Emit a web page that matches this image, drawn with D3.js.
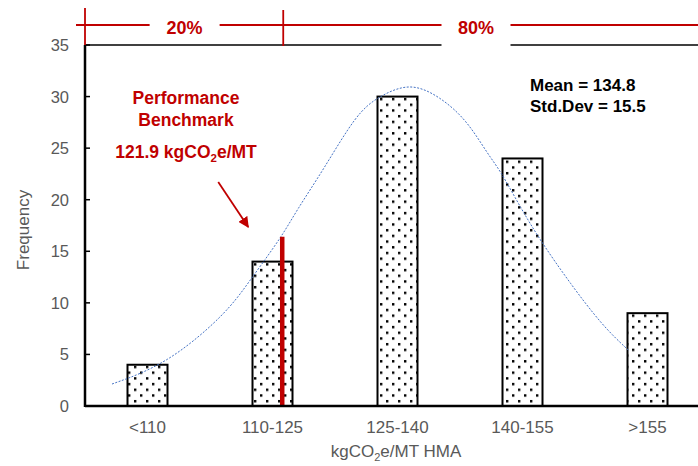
<!DOCTYPE html>
<html>
<head>
<meta charset="utf-8">
<script src="https://cdn.jsdelivr.net/npm/d3@7"></script>
<style>
  body { margin: 0; background: #fff; }
  text { font-family: "Liberation Sans", Arial, sans-serif; }
</style>
</head>
<body>
<svg id="chart" width="698" height="466"></svg>
<script>
// bins and counts
var categories = ['<110', '110-125', '125-140', '140-155', '>155'];
var counts = [4, 14, 30, 24, 9];
var yTicks = [0, 5, 10, 15, 20, 25, 30, 35];

// fitted normal curve (x in category positions, 0 = first bin)
var curveX = [-0.284, 0.154, 0.634, 0.82, 1.074, 1.194, 1.406, 1.674, 1.846, 2.1, 2.34, 2.554, 2.726, 2.82, 2.98, 3.14, 3.38, 3.646, 3.846];
var curveY = [2.13, 4.04, 8.99, 12.2, 16.4, 19.0, 22.88, 28.38, 29.99, 31.4, 29.99, 27.73, 24.34, 22.88, 19.32, 16.09, 11.9, 7.69, 5.43];

var benchmark = 121.9;
var benchmarkBin = [110, 125];
var benchmarkHeight = 16.4;
var shares = ['20%', '80%'];

var red = '#C00000';
var grey = '#595959';

var svg = d3.select('#chart');

var x = d3.scaleBand()
    .domain(categories)
    .range([85, 710])
    .paddingInner(0.68)
    .paddingOuter(0.34);

var y = d3.scaleLinear()
    .domain([0, 35])
    .range([406, 45]);

var xPos = d3.scaleLinear()
    .domain([0, categories.length - 1])
    .range([x(categories[0]) + x.bandwidth() / 2, x(categories[categories.length - 1]) + x.bandwidth() / 2]);

// benchmark position inside its bin
var xBench = d3.scaleLinear()
    .domain(benchmarkBin)
    .range([x('110-125'), x('110-125') + x.bandwidth()]);
var bx = xBench(benchmark) - 2;

// dot pattern
var defs = svg.append('defs');
var pat = defs.append('pattern')
    .attr('id', 'dots')
    .attr('patternUnits', 'userSpaceOnUse')
    .attr('width', 12)
    .attr('height', 11.4);
pat.append('rect').attr('width', 12).attr('height', 11.4).attr('fill', '#fff');
pat.append('rect').attr('x', 2).attr('y', 1).attr('width', 2.4).attr('height', 2.4).attr('fill', '#000');
pat.append('rect').attr('x', 8).attr('y', 6.7).attr('width', 2.4).attr('height', 2.4).attr('fill', '#000');

// top border of the plot area
svg.append('line')
    .attr('x1', 85).attr('x2', 698)
    .attr('y1', y(35)).attr('y2', y(35))
    .attr('stroke', '#000').attr('stroke-width', 1.5);

// bars
svg.selectAll('rect.bar')
    .data(counts)
    .enter().append('rect')
    .attr('class', 'bar')
    .attr('x', function(d, i) { return x(categories[i]); })
    .attr('y', function(d) { return y(d); })
    .attr('width', x.bandwidth())
    .attr('height', function(d) { return y(0) - y(d); })
    .attr('fill', 'url(#dots)')
    .attr('stroke', '#000')
    .attr('stroke-width', 2);

// normal curve
var pts = curveX.map(function(v, i) { return [xPos(v), y(curveY[i])]; });
svg.append('path')
    .attr('d', d3.line().curve(d3.curveBasis)(pts))
    .attr('fill', 'none')
    .attr('stroke', '#4472C4')
    .attr('stroke-width', 1)
    .attr('stroke-dasharray', '2,1.5');

// benchmark line
svg.append('line')
    .attr('x1', bx).attr('x2', bx)
    .attr('y1', y(0)).attr('y2', y(benchmarkHeight))
    .attr('stroke', red).attr('stroke-width', 4.5);

// axes
svg.append('line')
    .attr('x1', 85).attr('x2', 698)
    .attr('y1', y(0)).attr('y2', y(0))
    .attr('stroke', '#000').attr('stroke-width', 2.5);
svg.append('line')
    .attr('x1', 85).attr('x2', 85)
    .attr('y1', y(0) + 1).attr('y2', y(35))
    .attr('stroke', '#000').attr('stroke-width', 2.5);

svg.selectAll('line.ytick')
    .data(yTicks)
    .enter().append('line')
    .attr('x1', 85).attr('x2', 90)
    .attr('y1', function(d) { return y(d); })
    .attr('y2', function(d) { return y(d); })
    .attr('stroke', '#000').attr('stroke-width', 1.5);

svg.selectAll('text.ytl')
    .data(yTicks)
    .enter().append('text')
    .attr('x', 69)
    .attr('y', function(d) { return y(d) + 6; })
    .attr('text-anchor', 'end')
    .style('font-size', '16.5px')
    .style('fill', grey)
    .text(function(d) { return d; });

svg.selectAll('text.xtl')
    .data(categories)
    .enter().append('text')
    .attr('x', function(d) { return x(d) + x.bandwidth() / 2; })
    .attr('y', 433)
    .attr('text-anchor', 'middle')
    .style('font-size', '17px')
    .style('fill', grey)
    .text(function(d) { return d; });

// axis titles
svg.append('text')
    .attr('transform', 'translate(29,230) rotate(-90)')
    .attr('text-anchor', 'middle')
    .style('font-size', '17px')
    .style('fill', grey)
    .text('Frequency');

var xt = svg.append('text')
    .attr('x', 396).attr('y', 457)
    .attr('text-anchor', 'middle')
    .style('font-size', '17px')
    .style('fill', grey);
xt.append('tspan').text('kgCO');
xt.append('tspan').attr('dy', 4).style('font-size', '11px').text('2');
xt.append('tspan').attr('dy', -4).text('e/MT HMA');

// stats box
svg.append('text').attr('x', 530).attr('y', 91)
    .style('font-size', '17px').style('font-weight', 'bold').style('fill', '#000')
    .text('Mean = 134.8');
svg.append('text').attr('x', 530).attr('y', 112)
    .style('font-size', '17px').style('font-weight', 'bold').style('fill', '#000')
    .text('Std.Dev = 15.5');

// benchmark annotation
svg.append('text').attr('x', 186).attr('y', 104)
    .attr('text-anchor', 'middle')
    .style('font-size', '17.5px').style('font-weight', 'bold').style('fill', red)
    .text('Performance');
svg.append('text').attr('x', 186).attr('y', 126)
    .attr('text-anchor', 'middle')
    .style('font-size', '17.5px').style('font-weight', 'bold').style('fill', red)
    .text('Benchmark');
var bt = svg.append('text').attr('x', 186).attr('y', 158)
    .attr('text-anchor', 'middle')
    .style('font-size', '17.5px').style('font-weight', 'bold').style('fill', red);
bt.append('tspan').text(benchmark + ' kgCO');
bt.append('tspan').attr('dy', 4).style('font-size', '11.5px').text('2');
bt.append('tspan').attr('dy', -4).text('e/MT');

defs.append('marker')
    .attr('id', 'arrow')
    .attr('viewBox', '0 0 10 10')
    .attr('refX', 9).attr('refY', 5)
    .attr('markerWidth', 6).attr('markerHeight', 6)
    .attr('markerUnits', 'strokeWidth')
    .attr('orient', 'auto')
    .append('path')
    .attr('d', 'M0,0 L10,5 L0,10 z')
    .attr('fill', red);

svg.append('line')
    .attr('x1', bx - 64).attr('y1', 182)
    .attr('x2', bx - 34).attr('y2', 227)
    .attr('stroke', red).attr('stroke-width', 1.8)
    .attr('marker-end', 'url(#arrow)');

// share bracket at the top
var topY = 25;
svg.append('line').attr('x1', 76).attr('x2', 698).attr('y1', topY).attr('y2', topY)
    .attr('stroke', red).attr('stroke-width', 1.8);
svg.append('line').attr('x1', 85).attr('x2', 85).attr('y1', 8).attr('y2', y(35))
    .attr('stroke', red).attr('stroke-width', 1.8);
svg.append('line').attr('x1', bx + 1).attr('x2', bx + 1).attr('y1', 10).attr('y2', y(35) + 1)
    .attr('stroke', red).attr('stroke-width', 1.8);

var shareX = [(85 + bx) / 2 + 1, 476];
var shareW = [70, 69];
shares.forEach(function(s, i) {
    svg.append('rect')
        .attr('x', shareX[i] - shareW[i] / 2).attr('y', 15)
        .attr('width', shareW[i]).attr('height', i === 0 ? 22 : 32)
        .attr('fill', '#fff');
    svg.append('text')
        .attr('x', shareX[i]).attr('y', 34)
        .attr('text-anchor', 'middle')
        .style('font-size', '18px').style('font-weight', 'bold').style('fill', red)
        .text(s);
});
</script>
</body>
</html>
